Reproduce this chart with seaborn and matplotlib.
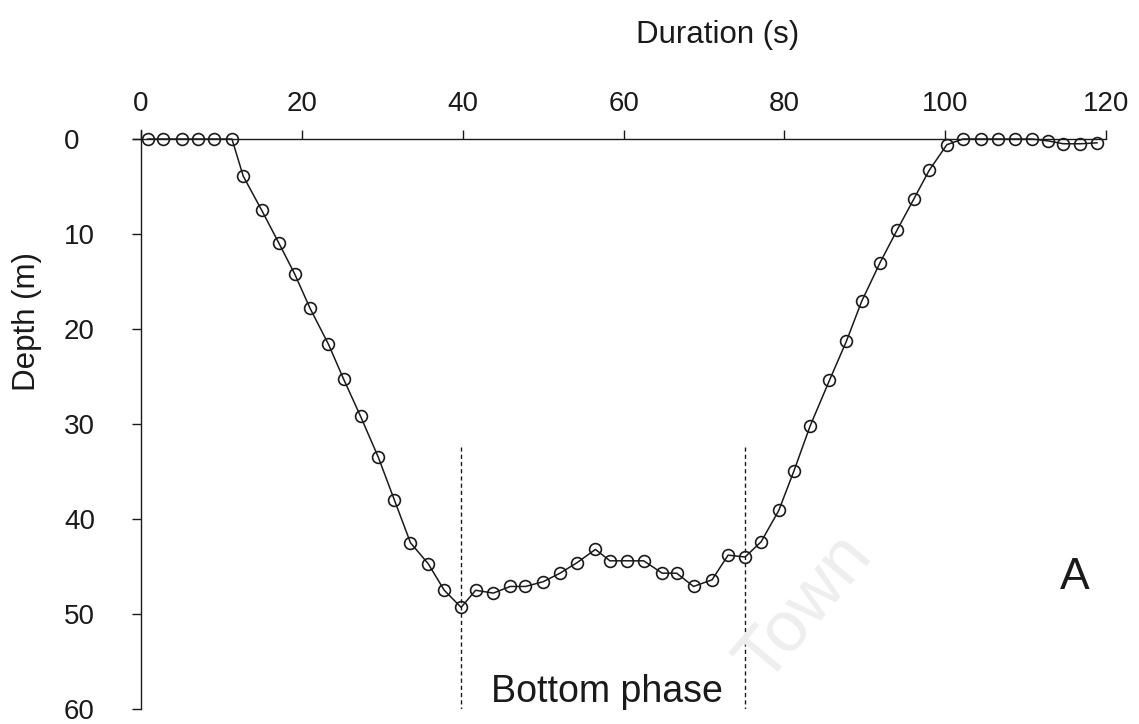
import matplotlib
matplotlib.use("Agg")
import matplotlib.pyplot as plt
import seaborn as sns
import pandas as pd

# Dive profile: elapsed time (s) and depth (m)
duration_s = [0.8, 2.7, 5.1, 7.1, 9.1, 11.3,
              12.7, 15.0, 17.1, 19.1, 21.0, 23.3, 25.2, 27.3, 29.5, 31.5,
              33.5, 35.7, 37.7, 39.8,
              41.6, 43.8, 45.9, 47.8, 50.0, 52.1, 54.2, 56.5, 58.3, 60.4,
              62.5, 64.8, 66.6, 68.7, 71.0, 73.0, 75.1,
              77.1, 79.3, 81.2, 83.2, 85.6, 87.7, 89.6, 91.9, 94.0, 96.1,
              98.0, 100.2,
              102.2, 104.4, 106.6, 108.7, 110.8, 112.8, 114.7, 116.8, 118.9]
depth_m = [0.0, 0.0, 0.0, 0.0, 0.0, 0.0,
           3.9, 7.5, 10.9, 14.2, 17.8, 21.6, 25.3, 29.2, 33.5, 38.0,
           42.5, 44.7, 47.5, 49.3,
           47.5, 47.8, 47.1, 47.1, 46.6, 45.7, 44.6, 43.2, 44.4, 44.4,
           44.4, 45.7, 45.7, 47.1, 46.4, 43.8, 44.0,
           42.4, 39.1, 34.9, 30.2, 25.4, 21.3, 17.1, 13.0, 9.6, 6.3,
           3.3, 0.6,
           0.0, 0.0, 0.0, 0.0, 0.0, 0.2, 0.5, 0.5, 0.4]

# Start and end of the bottom phase
phase_bounds_s = [39.8, 75.1]
phase_line_top_m = 32.4

x_ticks = [0, 20, 40, 60, 80, 100, 120]
y_ticks = [0, 10, 20, 30, 40, 50, 60]

sns.set_style("white")
plt.rcParams["font.family"] = ["Liberation Sans", "DejaVu Sans"]

fig = plt.figure(figsize=(11.39, 7.24), dpi=100)
ax = fig.add_axes([0.1168, 0.0207, 0.8543, 0.8004])

df = pd.DataFrame({"Duration (s)": duration_s, "Depth (m)": depth_m})
sns.lineplot(data=df, x="Duration (s)", y="Depth (m)", ax=ax,
             color="#1a1a1a", linewidth=1.1, marker="o", markersize=8.5,
             markerfacecolor="none", markeredgecolor="#1a1a1a",
             markeredgewidth=1.2)

ax.vlines(phase_bounds_s, phase_line_top_m, 60.3, colors="#1a1a1a",
          linestyles=(0, (3, 2.2)), linewidth=1.0)

ax.text(57.9, 59.3, "Bottom phase", fontsize=27, ha="center",
        va="baseline", color="#1a1a1a")
ax.text(116.1, 47.4, "A", fontsize=32, ha="center", va="baseline",
        color="#1a1a1a")

# Faint background lettering
fig.text(0.707, 0.16, "Town", fontsize=52, rotation=50, color="#eeeeee",
         ha="center", va="center", zorder=0)

ax.set_xlim(-1, 120)
ax.set_ylim(60, -1)
ax.set_xticks(x_ticks)
ax.set_yticks(y_ticks)

ax.xaxis.tick_top()
ax.xaxis.set_label_position("top")
for side in ("bottom", "right"):
    ax.spines[side].set_visible(False)
ax.spines["left"].set_position(("data", 0))
ax.spines["top"].set_position(("data", 0))
ax.spines["left"].set_bounds(-1, 60)
for side in ("left", "top"):
    ax.spines[side].set_linewidth(1.0)
    ax.spines[side].set_color("#1a1a1a")

ax.tick_params(axis="both", which="major", direction="out", length=6.5,
               width=1.0, color="#1a1a1a", labelsize=20,
               labelcolor="#1a1a1a")
ax.tick_params(axis="x", top=True, bottom=False, pad=9)
ax.tick_params(axis="y", left=True, right=False, pad=49)
for lbl in ax.get_yticklabels():
    lbl.set_horizontalalignment("left")

ax.set_xlabel("Duration (s)", fontsize=22.5, color="#1a1a1a")
ax.set_ylabel("Depth (m)", fontsize=22.5, color="#1a1a1a")
ax.xaxis.set_label_coords(0.601, 1.149)
ax.yaxis.set_label_coords(-0.094, 0.668)
ax.patch.set_alpha(0)

fig.savefig("out.png", dpi=100)
